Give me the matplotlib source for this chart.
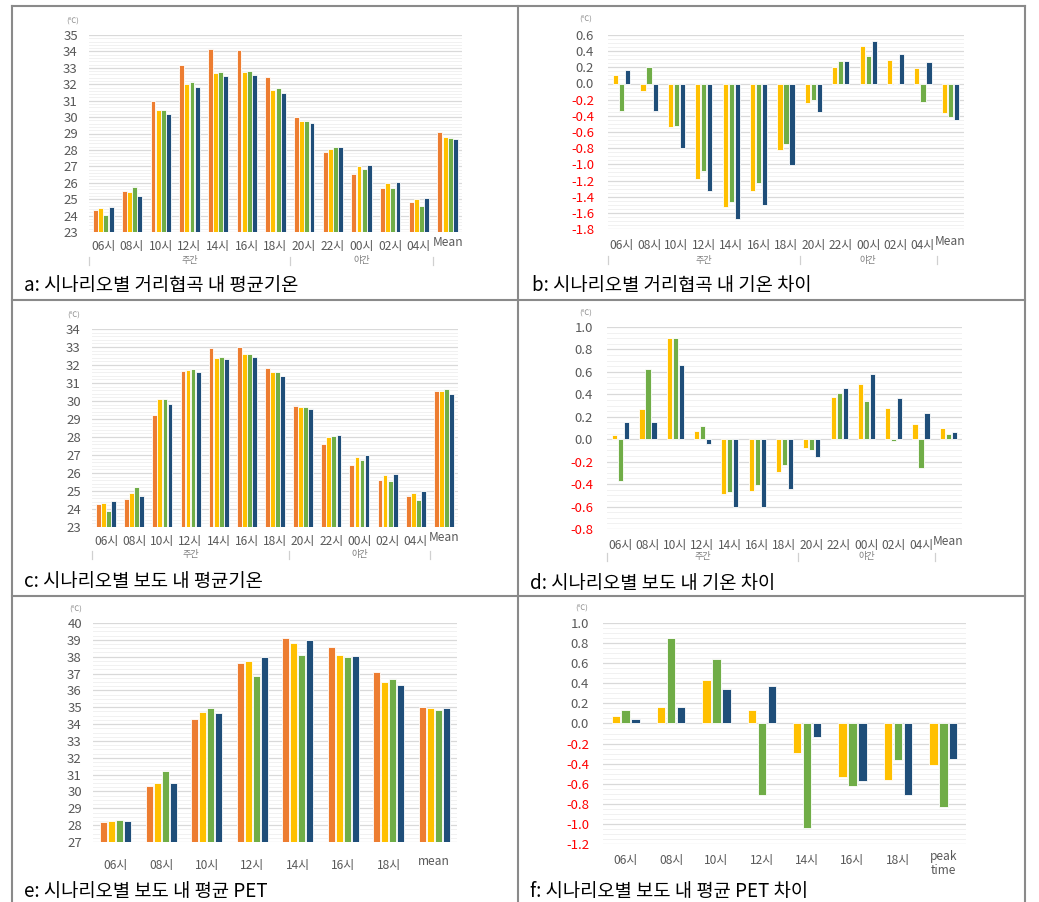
import numpy as np
import matplotlib
matplotlib.use("Agg")
import matplotlib.pyplot as plt
from matplotlib.lines import Line2D
from matplotlib.transforms import ScaledTranslation

plt.rcParams['font.family'] = ['Noto Sans CJK KR', 'DejaVu Sans']

W, H = 1039, 902

# ---- categories ----
hours_full = ['06시', '08시', '10시', '12시', '14시', '16시', '18시',
              '20시', '22시', '00시', '02시', '04시', 'Mean']
hours_day_e = ['06시', '08시', '10시', '12시', '14시', '16시', '18시', 'mean']
hours_day_f = ['06시', '08시', '10시', '12시', '14시', '16시', '18시', 'peak\ntime']

# ---- a: mean air temperature in street canyon ----
a_s0 = [24.32, 25.50, 30.97, 33.19, 34.17, 34.08, 32.46, 29.98, 27.90, 26.54, 25.66, 24.83, 29.10]
a_s1 = [24.46, 25.42, 30.42, 32.01, 32.66, 32.74, 31.64, 29.75, 28.08, 27.00, 25.99, 24.99, 28.78]
a_s2 = [24.02, 25.73, 30.42, 32.11, 32.74, 32.82, 31.75, 29.79, 28.17, 26.84, 25.66, 24.61, 28.71]
a_s3 = [24.50, 25.20, 30.16, 31.83, 32.50, 32.54, 31.46, 29.65, 28.17, 27.09, 26.05, 25.09, 28.67]

# ---- b: temperature difference in street canyon ----
b_s1 = [0.11, -0.09, -0.54, -1.18, -1.53, -1.33, -0.82, -0.24, 0.21, 0.46, 0.29, 0.19, -0.37]
b_s2 = [-0.34, 0.20, -0.52, -1.08, -1.46, -1.23, -0.75, -0.20, 0.28, 0.34, 0.00, -0.23, -0.41]
b_s3 = [0.17, -0.34, -0.80, -1.33, -1.68, -1.50, -1.01, -0.35, 0.28, 0.53, 0.36, 0.26, -0.45]

# ---- c: mean air temperature on sidewalk ----
c_s0 = [24.26, 24.58, 29.21, 31.64, 32.94, 33.02, 31.85, 29.73, 27.63, 26.42, 25.60, 24.75, 30.56]
c_s1 = [24.32, 24.88, 30.10, 31.74, 32.40, 32.59, 31.59, 29.67, 28.02, 26.90, 25.88, 24.91, 30.56]
c_s2 = [23.89, 25.25, 30.10, 31.77, 32.46, 32.63, 31.62, 29.67, 28.06, 26.74, 25.55, 24.49, 30.64]
c_s3 = [24.43, 24.75, 29.86, 31.62, 32.35, 32.42, 31.40, 29.58, 28.09, 27.00, 25.97, 24.99, 30.40]

# ---- d: temperature difference on sidewalk ----
d_s1 = [0.04, 0.27, 0.90, 0.07, -0.49, -0.46, -0.29, -0.08, 0.38, 0.49, 0.28, 0.14, 0.10]
d_s2 = [-0.37, 0.63, 0.90, 0.115, -0.47, -0.41, -0.23, -0.10, 0.41, 0.34, -0.012, -0.26, 0.044]
d_s3 = [0.15, 0.155, 0.66, -0.045, -0.60, -0.60, -0.44, -0.16, 0.46, 0.58, 0.37, 0.23, 0.062]

# ---- e: mean PET on sidewalk ----
e_s0 = [28.19, 30.34, 34.30, 37.60, 39.11, 38.57, 37.07, 35.03]
e_s1 = [28.23, 30.50, 34.74, 37.72, 38.81, 38.08, 36.50, 34.95]
e_s2 = [28.31, 31.21, 34.95, 36.85, 38.08, 38.00, 36.68, 34.85]
e_s3 = [28.23, 30.50, 34.66, 37.96, 38.99, 38.04, 36.34, 34.93]

# ---- f: PET difference on sidewalk ----
f_s1 = [0.07, 0.163, 0.435, 0.136, -0.29, -0.535, -0.558, -0.41]
f_s2 = [0.136, 0.854, 0.64, -0.708, -1.04, -0.625, -0.366, -0.83]
f_s3 = [0.04, 0.163, 0.346, 0.376, -0.133, -0.57, -0.71, -0.35]

ORANGE, YELLOW, GREEN, NAVY = '#ED7D31', '#FFC000', '#70AD47', '#1F4E79'
GREY_TXT = '#595959'
RED_TXT = '#FF0000'

fig = plt.figure(figsize=(W / 100, H / 100), dpi=100)
fig.patch.set_facecolor('white')


def add_axes_px(l, t, r, b):
    ax = fig.add_axes([l / W, 1 - b / H, (r - l) / W, (b - t) / H])
    ax.px_box = (l, t, r, b)
    return ax


def draw_bars(ax, labels, series, colors, width, step):
    x = np.arange(len(labels))
    n = len(series)
    for i, (vals, c) in enumerate(zip(series, colors)):
        off = (i - (n - 1) / 2) * step
        ax.bar(x + off, vals, width, color=c, edgecolor='white',
               linewidth=0.6, zorder=3)
    ax.set_xlim(-0.5, len(labels) - 0.5)
    ax.set_xticks(x)
    ax.set_xticklabels(labels)


def raise_last_label(ax, dy_px):
    lab = ax.get_xticklabels()[-1]
    lab.set_transform(lab.get_transform() +
                      ScaledTranslation(0, dy_px / 100, fig.dpi_scale_trans))


def style_axes(ax, lo, hi, step, minor, xpad, ypad, decimals):
    ax.set_ylim(lo, hi)
    n = int(round((hi - lo) / step))
    ticks = np.round(lo + step * np.arange(n + 1), 2)
    ax.set_yticks(ticks)
    fmt = '{:.%df}' % decimals
    ax.set_yticklabels([fmt.format(t + 0.0) for t in ticks])
    for t, lab in zip(ticks, ax.get_yticklabels()):
        lab.set_color(RED_TXT if t < -1e-9 else GREY_TXT)
    nm = int(round((hi - lo) / minor))
    mticks = lo + minor * np.arange(nm + 1)
    ax.set_yticks(mticks, minor=True)
    ax.grid(which='major', axis='y', color='#d9d9d9', lw=0.9)
    ax.grid(which='minor', axis='y', color='#f1f1f1', lw=0.7)
    ax.set_axisbelow(True)
    for s in ax.spines.values():
        s.set_visible(False)
    ax.tick_params(which='both', length=0)
    ax.tick_params(axis='y', labelsize=9.5, pad=ypad)
    ax.tick_params(axis='x', labelsize=8.6, pad=xpad, labelcolor=GREY_TXT)


def unit_label(x, y):
    fig.text(x / W, 1 - y / H, '(℃)', fontsize=5.5, color='#8c8c8c',
             ha='center', va='center')


def caption(x, y, s):
    fig.text(x / W, 1 - y / H, s, fontsize=13.5, color='black',
             ha='left', va='center')


def day_night(ax, sep_top, sep_bot, text_y):
    l, t, r, b = ax.px_box
    h = b - t
    f = lambda ypx: (b - ypx) / h
    tr = ax.get_xaxis_transform()
    for xs in (-0.5, 6.5, 11.5):
        ax.add_line(Line2D([xs, xs], [f(sep_top), f(sep_bot)], transform=tr,
                           color='#d0d0d0', lw=0.9, clip_on=False))
    ax.text(3.0, f(text_y), '주간', transform=tr, fontsize=6.5,
            color='#7f7f7f', ha='center', va='center')
    ax.text(9.0, f(text_y), '야간', transform=tr, fontsize=6.5,
            color='#7f7f7f', ha='center', va='center')


# ---- panel a ----
ax = add_axes_px(89, 35, 462, 232)
draw_bars(ax, hours_full, [a_s0, a_s1, a_s2, a_s3],
          [ORANGE, YELLOW, GREEN, NAVY], 0.17, 0.18)
style_axes(ax, 23, 35, 1, 0.2, 6, 8, 0)
raise_last_label(ax, 4)
day_night(ax, 257, 265, 261)
unit_label(73, 22)
caption(24, 285, 'a: 시나리오별 거리협곡 내 평균기온')

# ---- panel b ----
ax = add_axes_px(608, 35, 964, 229)
draw_bars(ax, hours_full, [b_s1, b_s2, b_s3], [YELLOW, GREEN, NAVY], 0.19, 0.22)
style_axes(ax, -1.8, 0.6, 0.2, 0.05, 7, 10, 1)
raise_last_label(ax, 4)
day_night(ax, 256, 264, 260)
unit_label(586, 20)
caption(532, 286, 'b: 시나리오별 거리협곡 내 기온 차이')

# ---- panel c ----
ax = add_axes_px(92, 329, 458, 527)
draw_bars(ax, hours_full, [c_s0, c_s1, c_s2, c_s3],
          [ORANGE, YELLOW, GREEN, NAVY], 0.17, 0.18)
style_axes(ax, 23, 34, 1, 0.2, 6, 8, 0)
raise_last_label(ax, 4)
day_night(ax, 551, 559, 555)
unit_label(74, 316)
caption(24, 582, 'c: 시나리오별 보도 내 평균기온')

# ---- panel d ----
ax = add_axes_px(607, 327, 962, 529)
draw_bars(ax, hours_full, [d_s1, d_s2, d_s3], [YELLOW, GREEN, NAVY], 0.19, 0.22)
style_axes(ax, -0.8, 1.0, 0.2, 0.05, 7, 10, 1)
raise_last_label(ax, 4)
day_night(ax, 553, 561, 557)
unit_label(586, 314)
caption(530, 583, 'd: 시나리오별 보도 내 기온 차이')

# ---- panel e ----
ax = add_axes_px(93, 623, 457, 842)
draw_bars(ax, hours_day_e, [e_s0, e_s1, e_s2, e_s3],
          [ORANGE, YELLOW, GREEN, NAVY], 0.16, 0.175)
style_axes(ax, 27, 40, 1, 0.25, 12, 8, 0)
raise_last_label(ax, 4)
unit_label(76, 610)
caption(24, 891, 'e: 시나리오별 보도 내 평균 PET')

# ---- panel f ----
ax = add_axes_px(603, 623, 966, 844)
draw_bars(ax, hours_day_f, [f_s1, f_s2, f_s3], [YELLOW, GREEN, NAVY], 0.185, 0.218)
style_axes(ax, -1.2, 1.0, 0.2, 0.05, 7, 10, 1)
for lab in ax.get_xticklabels():
    lab.set_linespacing(1.1)
raise_last_label(ax, 4)
unit_label(582, 609)
caption(530, 892, 'f: 시나리오별 보도 내 평균 PET 차이')

# ---- panel frame lines ----
frame = dict(color='#8a8a8a', lw=1.5)
def hline(y, x0, x1):
    fig.add_artist(Line2D([x0 / W, x1 / W], [1 - y / H, 1 - y / H], **frame))
def vline(x, y0, y1):
    fig.add_artist(Line2D([x / W, x / W], [1 - y0 / H, 1 - y1 / H], **frame))

hline(6, 12, 1025)
hline(300, 12, 1025)
hline(596, 12, 1025)
vline(12, 6, 902)
vline(518, 6, 902)
vline(1025, 6, 902)

fig.savefig('out.png', dpi=100, facecolor='white')
